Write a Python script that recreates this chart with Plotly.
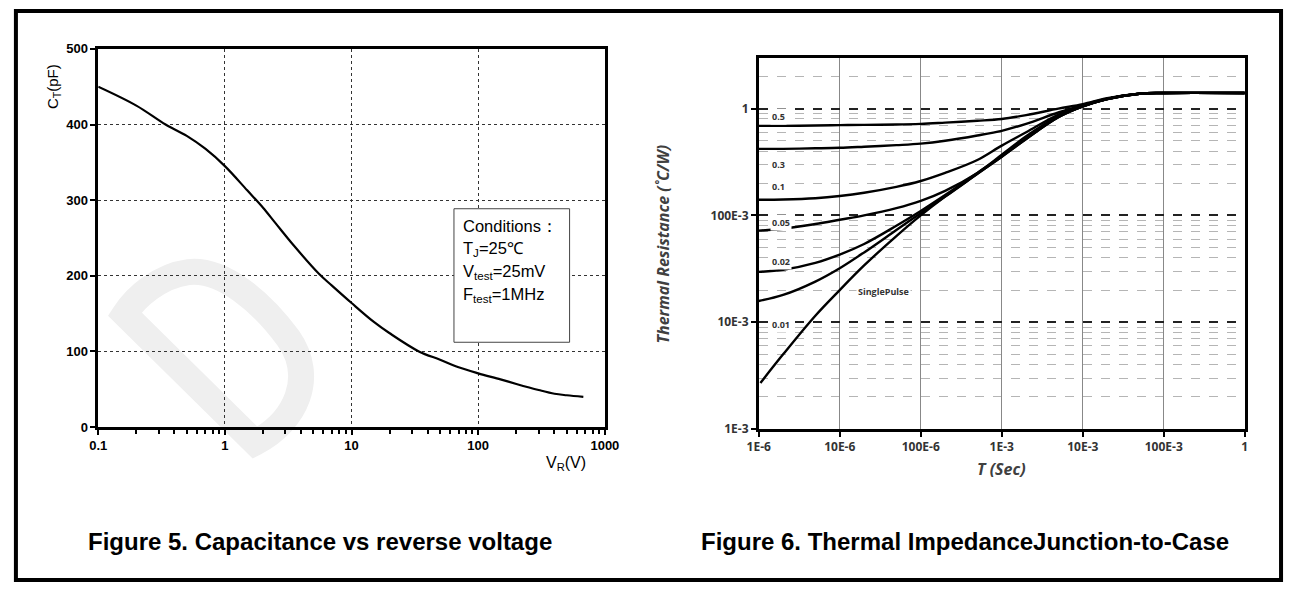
import math
import plotly.graph_objects as go

W, H = 1297, 590

# ---------------- Data: Figure 5 (capacitance) ----------------
vr_volts = [0.1, 0.2, 0.34, 0.5, 0.7, 1, 1.5, 2, 2.5, 3.5, 5.5, 7, 10, 15, 20, 34, 50, 70, 100, 150, 200, 300, 400, 500, 676]
ct_pf = [450, 425, 400, 385, 368, 345, 313, 290, 270, 240, 203, 187, 164, 139, 124, 100, 89, 79, 71, 63, 57, 49, 44, 42, 40]

cap_xticks = [0.1, 1, 10, 100, 1000]
cap_xticktext = ["0.1", "1", "10", "100", "1000"]
cap_yticks = [0, 100, 200, 300, 400, 500]
cond_lines = ["Conditions：", "T<sub>J</sub>=25℃", "V<sub>test</sub>=25mV", "F<sub>test</sub>=1MHz"]

# ---------------- Data: Figure 6 (thermal impedance) ----------------
t_sec = [1e-6, 2e-6, 5e-6, 1e-5, 2e-5, 5e-5, 1e-4, 2e-4, 5e-4, 1e-3, 2e-3, 5e-3, 1e-2, 2e-2, 5e-2, 1e-1, 1]
t_single = [1.05e-6, 2e-6, 5e-6, 1e-5, 2e-5, 5e-5, 1e-4, 2e-4, 5e-4, 1e-3, 2e-3, 5e-3, 1e-2, 2e-2, 5e-2, 1e-1, 1]
z_d05 = [0.69, 0.69, 0.695, 0.70, 0.705, 0.71, 0.72, 0.74, 0.77, 0.80, 0.87, 1.0, 1.1, 1.25, 1.38, 1.40, 1.40]
z_d03 = [0.42, 0.42, 0.425, 0.43, 0.44, 0.455, 0.47, 0.50, 0.56, 0.62, 0.72, 0.92, 1.08, 1.24, 1.38, 1.40, 1.40]
z_d01 = [0.14, 0.141, 0.145, 0.152, 0.163, 0.185, 0.21, 0.25, 0.33, 0.45, 0.6, 0.88, 1.06, 1.23, 1.38, 1.40, 1.40]
z_d005 = [0.072, 0.075, 0.083, 0.091, 0.1, 0.117, 0.137, 0.17, 0.25, 0.37, 0.55, 0.85, 1.05, 1.23, 1.38, 1.40, 1.40]
z_d002 = [0.0296, 0.031, 0.036, 0.043, 0.054, 0.08, 0.11, 0.155, 0.25, 0.36, 0.53, 0.84, 1.05, 1.23, 1.38, 1.40, 1.40]
z_d001 = [0.0158, 0.018, 0.024, 0.032, 0.045, 0.073, 0.105, 0.15, 0.245, 0.355, 0.52, 0.83, 1.05, 1.23, 1.38, 1.40, 1.40]
z_single = [0.0027, 0.005, 0.0115, 0.02, 0.034, 0.064, 0.1, 0.15, 0.245, 0.355, 0.52, 0.83, 1.05, 1.23, 1.38, 1.40, 1.40]

th_series = [z_d05, z_d03, z_d01, z_d005, z_d002, z_d001]
th_labels = ["0.5", "0.3", "0.1", "0.05", "0.02", "0.01"]
th_label_y = [0.84, 0.30, 0.185, 0.086, 0.037, 0.0095]
single_label = "SinglePulse"
single_label_pos = (3.5e-5, 0.0195)

th_xticks = [1e-6, 1e-5, 1e-4, 1e-3, 1e-2, 1e-1, 1]
th_xticktext = ["1E-6", "10E-6", "100E-6", "1E-3", "10E-3", "100E-3", "1"]
th_yticks = [1e-3, 1e-2, 1e-1, 1]
th_yticktext = ["1E-3", "10E-3", "100E-3", "1"]


def px(x):
    return x / W


def py(y):
    return 1 - y / H


fig = go.Figure()

fig.add_trace(go.Scatter(x=vr_volts, y=ct_pf, mode="lines", line=dict(color="black", width=2.2, shape="spline"),
                         xaxis="x", yaxis="y", showlegend=False, hoverinfo="skip"))

for s in th_series:
    fig.add_trace(go.Scatter(x=t_sec, y=s, mode="lines", line=dict(color="black", width=2.4, shape="spline"),
                             xaxis="x2", yaxis="y2", showlegend=False, hoverinfo="skip"))
fig.add_trace(go.Scatter(x=t_single, y=z_single, mode="lines", line=dict(color="black", width=2.4, shape="spline"),
                         xaxis="x2", yaxis="y2", showlegend=False, hoverinfo="skip"))

minor_cap = [m * 10 ** e for e in range(-1, 3) for m in range(2, 10)]
minor_th_y = [m * 10 ** e for e in range(-3, 1) for m in range(2, 10)]

arial = "Liberation Sans, Arial, sans-serif"
sans = "Open Sans, Noto Sans, sans-serif"

fig.update_layout(
    width=W, height=H,
    margin=dict(l=0, r=0, t=0, b=0),
    paper_bgcolor="white", plot_bgcolor="rgba(0,0,0,0)",
    showlegend=False,
    xaxis=dict(
        type="log", range=[-1, 3], domain=[px(88), px(605)], anchor="y",
        tickvals=cap_xticks, ticktext=cap_xticktext,
        ticks="outside", ticklen=5, tickwidth=2, tickcolor="black",
        minor=dict(tickvals=minor_cap, ticks="outside", ticklen=4, tickwidth=2, tickcolor="black", showgrid=False),
        showline=True, linecolor="black", linewidth=2.5, mirror=True,
        showgrid=True, gridcolor="#333", griddash="dot", gridwidth=1,
        tickfont=dict(family=arial, size=13, color="black", weight="bold"),
        zeroline=False,
    ),
    yaxis=dict(
        range=[0, 500], domain=[py(431), py(43)], anchor="x",
        tickvals=cap_yticks,
        ticks="outside", ticklen=5, tickwidth=2, tickcolor="black",
        showline=True, linecolor="black", linewidth=2.5, mirror=True,
        showgrid=True, gridcolor="#333", griddash="dot", gridwidth=1,
        tickfont=dict(family=arial, size=13, color="black", weight="bold"),
        zeroline=False,
    ),
    xaxis2=dict(
        type="log", range=[-6, 0], domain=[px(762), px(1258)], anchor="y2",
        tickvals=th_xticks, ticktext=th_xticktext,
        ticks="outside", ticklen=5, tickwidth=2, tickcolor="black",
        showline=True, linecolor="black", linewidth=2.5, mirror=True,
        showgrid=True, gridcolor="#888", gridwidth=1,
        tickfont=dict(family=sans, size=12, color="#333", weight="bold"),
        zeroline=False,
    ),
    yaxis2=dict(
        type="log", range=[-3, 0.4771], domain=[py(433), py(52)], anchor="x2",
        tickvals=th_yticks, ticktext=th_yticktext,
        ticks="outside", ticklen=5, tickwidth=2, tickcolor="black",
        minor=dict(tickvals=minor_th_y, ticks="", showgrid=True, gridcolor="#b5b5b5", griddash="dash", gridwidth=1.3),
        showline=True, linecolor="black", linewidth=2.5, mirror=True,
        showgrid=True, gridcolor="#222", griddash="dash", gridwidth=1.5,
        tickfont=dict(family=sans, size=12, color="#333", weight="bold"),
        zeroline=False,
    ),
)


def ppath(pts_cmds):
    out = []
    for c in pts_cmds:
        if isinstance(c, str):
            out.append(c)
        else:
            out.append(f"{px(c[0]):.5f},{py(c[1]):.5f}")
    return " ".join(out)


shapes = []
# Faint watermark "D"
d_path = ppath(["M", (115, 315), "L", (248, 447), "C", (290, 425), (310, 380), (282, 340),
                "C", (255, 303), (215, 268), (180, 272), "C", (150, 276), (126, 298), (115, 315), "Z"])
shapes.append(dict(type="path", xref="paper", yref="paper", path=d_path, layer="below",
                   line=dict(color="#efefef", width=26), fillcolor="rgba(0,0,0,0)"))
# Outer frame
shapes.append(dict(type="rect", xref="paper", yref="paper", x0=px(4), x1=px(1295), y0=py(588), y1=py(4),
                   line=dict(color="black", width=4), fillcolor="rgba(0,0,0,0)"))
# Conditions box
shapes.append(dict(type="rect", xref="paper", yref="paper", x0=px(451), x1=px(569), y0=py(344), y1=py(207),
                   line=dict(color="#444", width=1), fillcolor="white", layer="above"))
fig.update_layout(shapes=shapes)

ann = []
ann.append(dict(xref="paper", yref="paper", x=px(43), y=py(82), text="C<sub>T</sub>(pF)", textangle=-90,
                showarrow=False, font=dict(family=arial, size=15, color="black"), xanchor="center", yanchor="middle"))
ann.append(dict(xref="paper", yref="paper", x=px(565), y=py(468), text="V<sub>R</sub>(V)",
                showarrow=False, font=dict(family=arial, size=16, color="black"), xanchor="center", yanchor="middle"))
for i, t in enumerate(cond_lines):
    ann.append(dict(xref="paper", yref="paper", x=px(458), y=py(225 + i * 23.5), text=t, showarrow=False,
                    font=dict(family=arial, size=16.5, color="black"), xanchor="left", yanchor="middle"))
ann.append(dict(xref="paper", yref="paper", x=px(664), y=py(243), text="Thermal Resistance (˚C/W)", textangle=-90,
                showarrow=False, font=dict(family=sans, size=16, color="#404040", weight="bold", style="italic"),
                xanchor="center", yanchor="middle"))
ann.append(dict(xref="paper", yref="paper", x=px(1010), y=py(474), text="T (Sec)",
                showarrow=False, font=dict(family=sans, size=16, color="#404040", weight="bold", style="italic"),
                xanchor="center", yanchor="middle"))
for lab, yv in zip(th_labels, th_label_y):
    ann.append(dict(xref="x2", yref="y2", x=-5.86, y=math.log10(yv), text=lab, showarrow=False,
                    font=dict(family=sans, size=9, color="#333", weight="bold"), bgcolor="white",
                    xanchor="left", yanchor="middle", borderpad=1))
ann.append(dict(xref="x2", yref="y2", x=math.log10(single_label_pos[0]), y=math.log10(single_label_pos[1]),
                text=single_label, showarrow=False, font=dict(family=sans, size=9, color="#333", weight="bold"),
                bgcolor="white", xanchor="center", yanchor="middle", borderpad=1))
ann.append(dict(xref="paper", yref="paper", x=px(314), y=py(548), text="<b>Figure 5. Capacitance vs reverse voltage</b>",
                showarrow=False, font=dict(family=arial, size=24, color="black"), xanchor="center", yanchor="middle"))
ann.append(dict(xref="paper", yref="paper", x=px(972), y=py(548), text="<b>Figure 6. Thermal ImpedanceJunction-to-Case</b>",
                showarrow=False, font=dict(family=arial, size=24, color="black"), xanchor="center", yanchor="middle"))
fig.update_layout(annotations=ann)

# Remove the default 8px page margin so the 1297x590 figure fills the window exactly.
fig.write_html("out.html", config={"displayModeBar": False},
               post_script="document.body.style.margin='0px';")
